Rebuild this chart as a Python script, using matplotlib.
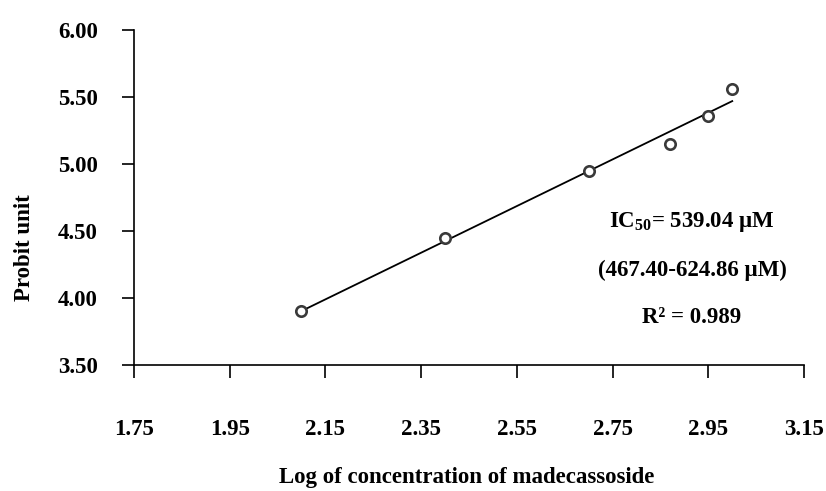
import numpy as np
import matplotlib
matplotlib.use("Agg")
import matplotlib.pyplot as plt

plt.rcParams['font.family'] = ['Liberation Serif', 'DejaVu Serif']
plt.rcParams['font.weight'] = 'bold'
plt.rcParams['mathtext.fontset'] = 'custom'
plt.rcParams['mathtext.rm'] = 'Liberation Serif:bold'

# data
log_conc = [2.10, 2.40, 2.70, 2.87, 2.95, 3.00]
probit = [3.90, 4.45, 4.95, 5.15, 5.36, 5.56]
x_ticks = [1.75, 1.95, 2.15, 2.35, 2.55, 2.75, 2.95, 3.15]
y_ticks = [3.50, 4.00, 4.50, 5.00, 5.50, 6.00]

# linear fit for the trend line
slope, intercept = np.polyfit(log_conc, probit, 1)
fit_x = np.array([min(log_conc), max(log_conc)])
fit_y = slope * fit_x + intercept

FS = 16.5

fig = plt.figure(figsize=(8.26, 4.91), dpi=100)
ax = fig.add_axes([0.1622, 0.2566, 0.8112, 0.6823])

ax.plot(fit_x, fit_y, color='black', lw=1.3, zorder=2)
ax.plot(log_conc, probit, 'o', ms=7.5, mfc='white', mec='#3a3a3a', mew=1.9, zorder=3)

ax.set_xlim(1.75, 3.15)
ax.set_ylim(3.5, 6.0)
ax.set_xticks(x_ticks)
ax.set_yticks(y_ticks)
ax.set_xticklabels([f"{v:.2f}" for v in x_ticks])
ax.set_yticklabels([f"{v:.2f}" for v in y_ticks])

for s in ['top', 'right']:
    ax.spines[s].set_visible(False)
for s in ['left', 'bottom']:
    ax.spines[s].set_linewidth(1.2)
ax.tick_params(axis='x', direction='out', length=9, width=1.2, pad=30, labelsize=FS)
ax.tick_params(axis='y', direction='out', length=9, width=1.2, pad=17, labelsize=FS)

ax.text(2.916, 4.567, r'IC$\mathregular{_{50}}$= 539.04 µM', ha='center', va='center',
        fontsize=FS, fontweight='bold')
ax.text(2.916, 4.209, '(467.40-624.86 µM)', ha='center', va='center',
        fontsize=FS, fontweight='bold')
ax.text(2.916, 3.858, 'R² = 0.989', ha='center', va='center',
        fontsize=FS, fontweight='bold')

fig.text(467 / 826, 1 - 478 / 491, 'Log of concentration of madecassoside',
         ha='center', va='center', fontsize=FS, fontweight='bold')
fig.text(25 / 826, 1 - 248 / 491, 'Probit unit', rotation=90,
         ha='center', va='center', fontsize=FS, fontweight='bold')

fig.savefig('out.png', dpi=100)
